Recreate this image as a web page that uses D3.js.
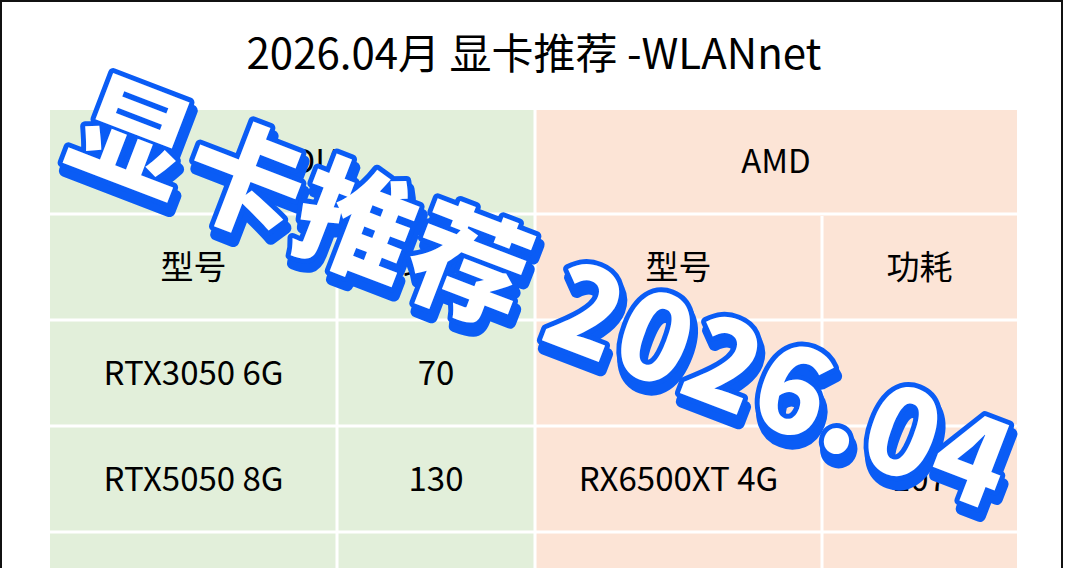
<!DOCTYPE html>
<html><head><meta charset="utf-8">
<script src="https://cdn.jsdelivr.net/npm/d3@7"></script>
<style>body{margin:0;background:#fff;}svg{display:block;}</style>
</head><body>
<script>
const title = "2026.04月 显卡推荐 -WLANnet";
const brands = ["NVIDIA", "AMD"];
const subHeaders = ["型号", "功耗", "型号", "功耗"];
const nvidiaModels = ["RTX3050 6G", "RTX5050 8G", ""];
const nvidiaPower = ["70", "130", ""];
const amdModels = ["", "RX6500XT 4G", ""];
const amdPower = ["", "107", ""];
const overlay = "显卡推荐 2026.04";

const W = 1066, H = 568;
const svg = d3.select("body").append("svg").attr("width", W).attr("height", H);
svg.append("rect").attr("x",1).attr("y",1).attr("width",1061).attr("height",H+10)
  .attr("fill","#fff").attr("stroke","#111").attr("stroke-width",2);

const font = "'Noto Sans CJK SC','Noto Sans',sans-serif";
svg.append("text").attr("x",534).attr("y",69).attr("text-anchor","middle")
  .attr("font-family",font).attr("font-weight",400).attr("font-size",42).attr("fill","#000").text(title);

const colEdges = [50,337,535,822,1017];
const rowY = d3.scaleLinear().domain([0,1]).range([110,216]);
const greens = "#e2efda", pinks = "#fce4d6";
const g = svg.append("g");
g.append("rect").attr("x",50).attr("y",110).attr("width",485).attr("height",H).attr("fill",greens);
g.append("rect").attr("x",535).attr("y",110).attr("width",482).attr("height",H).attr("fill",pinks);
[1,2,3,4].forEach(r=>g.append("line").attr("x1",50).attr("x2",1017).attr("y1",rowY(r)-2).attr("y2",rowY(r)-2).attr("stroke","#fff").attr("stroke-width",3));
[337,822].forEach(cx=>g.append("line").attr("x1",cx).attr("x2",cx).attr("y1",rowY(1)).attr("y2",H).attr("stroke","#fff").attr("stroke-width",3));
g.append("line").attr("x1",535).attr("x2",535).attr("y1",110).attr("y2",H).attr("stroke","#fff").attr("stroke-width",3);

function cell(c0,c1,r,txt){
  g.append("text").attr("x",(colEdges[c0]+colEdges[c1])/2).attr("y",rowY(r+0.5)+10)
   .attr("text-anchor","middle").attr("font-family",font).attr("font-weight",400).attr("font-size",33).attr("fill","#000").text(txt);
}
cell(0,2,0,brands[0]); cell(2,4,0,brands[1]);
subHeaders.forEach((s,i)=>cell(i,i+1,1,s));
nvidiaModels.forEach((s,i)=>cell(0,1,i+2,s));
nvidiaPower.forEach((s,i)=>cell(1,2,i+2,s));
amdModels.forEach((s,i)=>cell(2,3,i+2,s));
amdPower.forEach((s,i)=>cell(3,4,i+2,s));

const ov = svg.append("g").attr("transform","translate(62,156) rotate(21)");
const common = t=>t.attr("font-family","'Noto Sans CJK SC',sans-serif").attr("font-weight",900)
  .attr("font-size",118).attr("letter-spacing",2).text(overlay);
common(ov.append("text").attr("x",5).attr("y",7)).attr("fill","#0a5cf5").attr("stroke","#0a5cf5").attr("stroke-width",12).attr("stroke-linejoin","round");
common(ov.append("text")).attr("fill","#fff").attr("stroke","#0a5cf5").attr("stroke-width",10).attr("stroke-linejoin","round").attr("paint-order","stroke");
</script>
</body></html>
